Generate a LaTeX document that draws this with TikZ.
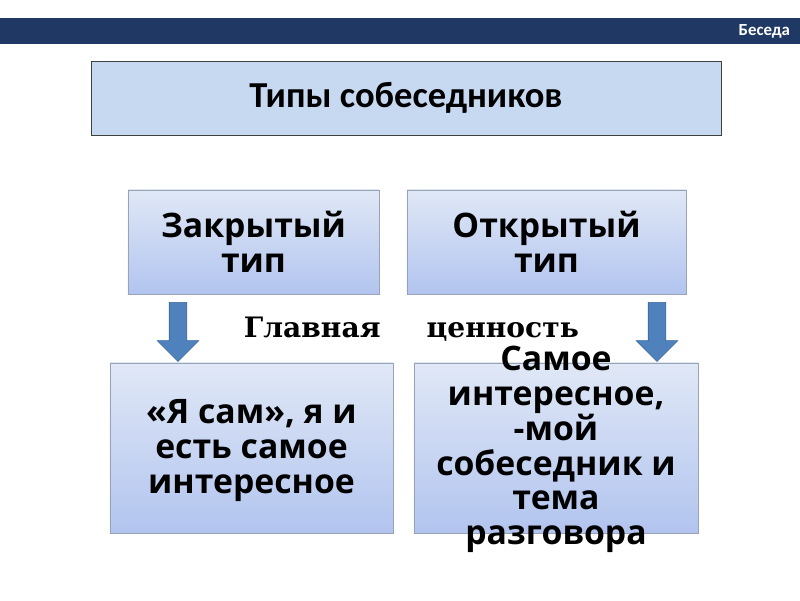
\documentclass[tikz,border=0pt]{standalone}
\usepackage{fontspec}
\setmainfont{Open Sans}
\newfontfamily\calibrifont{Carlito}
\newfontfamily\schoolfont{DejaVu Serif}
\usepackage{xcolor}
\usepackage{tikz}
\usetikzlibrary{positioning,%
  shapes.arrows,%
  shadows
}

\definecolor{barblue}{HTML}{1F3864}
\definecolor{titlefill}{HTML}{C6D9F1}
\definecolor{boxtop}{HTML}{E0E8F6}
\definecolor{boxbottom}{HTML}{B2C4EF}
\definecolor{boxline}{HTML}{98A3B6}
\definecolor{arrowfill}{HTML}{4F81BD}
\definecolor{arrowline}{HTML}{3A6496}

\tikzset{
  titlebox/.style={draw=black!75, fill=titlefill, minimum width=15.75cm, minimum height=1.85cm,
    font=\calibrifont\bfseries\fontsize{26}{30}\selectfont},
  typebox/.style={draw=boxline, top color=boxtop, bottom color=boxbottom,
    drop shadow={opacity=0.2, shadow xshift=0.6pt, shadow yshift=-0.6pt}},
  boxtext/.style={align=center, font=\bfseries\fontsize{24}{24.8}\selectfont},
  downarrow/.style={single arrow, shape border rotate=270, fill=arrowfill, draw=arrowline,
    inner sep=0.2125cm, single arrow head extend=0.3cm, minimum height=1.475cm}
}

\begin{document}
\begin{tikzpicture}[x=0.025cm,y=-0.025cm]
  \useasboundingbox (0,0) rectangle (800,600);

  \fill [barblue] (0,18) rectangle (800,44);
  \node [anchor=east, text=white, font=\calibrifont\bfseries\fontsize{12}{14}\selectfont] (topic) at (795,31) {Беседа};

  \node [titlebox] (types) at (406,98) {Типы собеседников};

  \node [typebox, minimum width=6.275cm, minimum height=2.6cm] (closed) at (253.5,242) {};
  \node [typebox, minimum width=6.975cm, minimum height=2.6cm] (open) at (546.5,242) {};
  \node [boxtext] (closedText) at (closed) {Закрытый\\тип};
  \node [boxtext] (openText) at (open) {Открытый\\тип};

  \node [downarrow] (closedArrow) at (178,327.5) {};
  \node [downarrow] (openArrow) at (657,327.5) {};

  \node [anchor=base west, font=\schoolfont\bfseries\fontsize{20}{24}\selectfont] (mainValue) at (239,337) {Главная\hspace{1.15cm}ценность};

  \node [typebox, minimum width=7.075cm, minimum height=4.25cm] (closedValue) at (251.5,448) {};
  \node [typebox, minimum width=7.1cm, minimum height=4.25cm] (openValue) at (556,448) {};
  \node [boxtext] (closedValueText) at ([yshift=-2pt]closedValue) {«Я сам», я и\\есть самое\\интересное};
  \node [boxtext] (openValueText) at ([yshift=-1pt]openValue) {Самое\\интересное,\\-мой\\собеседник и\\тема\\разговора};
\end{tikzpicture}
\end{document}
